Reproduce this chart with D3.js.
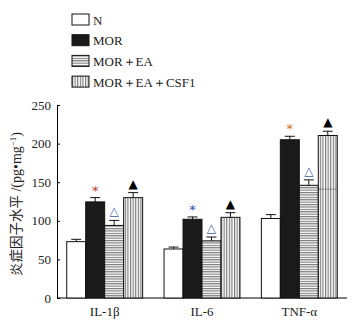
<!DOCTYPE html>
<html>
<head>
<meta charset="utf-8">
<script src="https://cdn.jsdelivr.net/npm/d3@7"></script>
<style>
  body { margin: 0; background: #fff; }
  text { font-family: "Liberation Serif", "Times New Roman", serif; }
</style>
</head>
<body>
<div id="chart"></div>
<script>
let w = 361;
let h = 322;

// data
let cytokines = ["IL-1β", "IL-6", "TNF-α"];
let groups = ["N", "MOR", "MOR＋EA", "MOR＋EA＋CSF1"];
let meanN      = [73, 63.5, 103];
let meanMOR    = [124.5, 102, 205];
let meanEA     = [94, 74, 146];
let meanCSF1   = [130, 104.5, 210.5];
let errN       = [3, 2.5, 5];
let errMOR     = [5.5, 3, 4.5];
let errEA      = [6.5, 5, 7];
let errCSF1    = [6.5, 6, 5.5];
let yTicks = [0, 50, 100, 150, 200, 250];
// significance marks: * vs N, open triangle vs MOR, filled triangle vs MOR+EA
let marks = ["*", "△", "▲"];
let starColors = ["#c0392b", "#2c4fa8", "#d4701c"];

let means = [meanN, meanMOR, meanEA, meanCSF1];
let errs = [errN, errMOR, errEA, errCSF1];

let viz = d3.select("#chart").append("svg")
  .attr("width", w)
  .attr("height", h);

let defs = viz.append("defs");
let ph = defs.append("pattern").attr("id", "hlines")
  .attr("patternUnits", "userSpaceOnUse").attr("width", 4).attr("height", 2.4);
ph.append("rect").attr("width", 4).attr("height", 2.4).attr("fill", "#fff");
ph.append("line").attr("x1", 0).attr("x2", 4).attr("y1", 0.6).attr("y2", 0.6)
  .attr("stroke", "#666").attr("stroke-width", 1);
let pv = defs.append("pattern").attr("id", "vlines")
  .attr("patternUnits", "userSpaceOnUse").attr("width", 2.6).attr("height", 4);
pv.append("rect").attr("width", 2.6).attr("height", 4).attr("fill", "#fff");
pv.append("line").attr("y1", 0).attr("y2", 4).attr("x1", 0.6).attr("x2", 0.6)
  .attr("stroke", "#666").attr("stroke-width", 1);

let fills = ["#fff", "#1a1a1a", "url(#hlines)", "url(#vlines)"];

let plotLeft = 57, plotRight = 347, plotTop = 105, plotBottom = 298;

let yScale = d3.scaleLinear().domain([0, 250]).range([plotBottom, plotTop]);
let x0 = d3.scaleBand().domain(cytokines).range([plotLeft, plotRight])
  .paddingInner(0.22).paddingOuter(0.1);
let x1 = d3.scaleBand().domain(groups).range([0, x0.bandwidth()]);

// y axis
let yAxis = d3.axisLeft(yScale).tickValues(yTicks).tickSizeInner(-3).tickSizeOuter(0).tickPadding(6);
let yg = viz.append("g").attr("transform", "translate(" + plotLeft + ",0)").call(yAxis);
yg.select(".domain").attr("stroke", "#000");
yg.selectAll("line").attr("stroke", "#000");
yg.selectAll("text").attr("font-size", 13).attr("fill", "#222")
  .style("font-family", "Liberation Serif, serif");

// x axis
viz.append("line").attr("x1", plotLeft).attr("x2", plotRight)
  .attr("y1", plotBottom).attr("y2", plotBottom).attr("stroke", "#000");
viz.selectAll(".xlab").data(cytokines).enter().append("text")
  .attr("x", d => x0(d) + x0.bandwidth() / 2)
  .attr("y", 316)
  .attr("text-anchor", "middle")
  .attr("font-size", 13)
  .attr("fill", "#222")
  .text(d => d);

// bars
let flat = [];
cytokines.forEach((c, ci) => {
  groups.forEach((g, gi) => {
    flat.push({c: c, ci: ci, g: g, gi: gi, v: means[gi][ci], e: errs[gi][ci]});
  });
});

let bars = viz.append("g");
bars.selectAll("rect").data(flat).enter().append("rect")
  .attr("x", d => x0(d.c) + x1(d.g))
  .attr("y", d => yScale(d.v))
  .attr("width", x1.bandwidth())
  .attr("height", d => plotBottom - yScale(d.v))
  .attr("fill", d => fills[d.gi])
  .attr("stroke", "#111")
  .attr("stroke-width", 1);

// error bars
let eb = viz.append("g").attr("stroke", "#111").attr("stroke-width", 1);
eb.selectAll(".stem").data(flat).enter().append("line")
  .attr("x1", d => x0(d.c) + x1(d.g) + x1.bandwidth() / 2)
  .attr("x2", d => x0(d.c) + x1(d.g) + x1.bandwidth() / 2)
  .attr("y1", d => yScale(d.v))
  .attr("y2", d => yScale(d.v + d.e));
eb.selectAll(".cap").data(flat).enter().append("line")
  .attr("x1", d => x0(d.c) + x1(d.g) + x1.bandwidth() / 2 - 5)
  .attr("x2", d => x0(d.c) + x1(d.g) + x1.bandwidth() / 2 + 5)
  .attr("y1", d => yScale(d.v + d.e))
  .attr("y2", d => yScale(d.v + d.e));

// stray dotted line inside TNF CSF1 bar
viz.append("line")
  .attr("x1", x0("TNF-α") + x1(groups[3]) + 1)
  .attr("x2", x0("TNF-α") + x1(groups[3]) + x1.bandwidth() - 1)
  .attr("y1", yScale(141)).attr("y2", yScale(141))
  .attr("stroke", "#333").attr("stroke-width", 0.8).attr("stroke-dasharray", "1,1");

// significance marks
let sig = flat.filter(d => d.gi > 0);
viz.selectAll(".sig").data(sig).enter().append("text")
  .attr("x", d => x0(d.c) + x1(d.g) + x1.bandwidth() / 2)
  .attr("y", d => yScale(d.v + d.e) - (d.gi == 1 ? 3 : 5))
  .attr("text-anchor", "middle")
  .attr("font-size", d => d.gi == 1 ? 13 : 12)
  .attr("fill", d => d.gi == 1 ? starColors[d.ci] : (d.gi == 2 ? "#3a5da8" : "#000"))
  .style("font-family", "DejaVu Sans, sans-serif")
  .text(d => marks[d.gi - 1]);

// y axis title
viz.append("text")
  .attr("transform", "translate(21,204) rotate(-90)")
  .attr("text-anchor", "middle")
  .attr("font-size", 14)
  .attr("fill", "#222")
  .html('<tspan style="font-family:Noto Sans CJK SC, sans-serif" font-size="13.5">炎症因子水平</tspan> /(pg•mg<tspan dy="-5" font-size="9">−1</tspan><tspan dy="5">)</tspan>');

// legend
let legend = viz.selectAll(".leg").data(groups).enter().append("g")
  .attr("transform", (d, i) => "translate(72," + (14 + i * 20.7) + ")");
legend.append("rect")
  .attr("width", 17).attr("height", 11)
  .attr("fill", (d, i) => fills[i])
  .attr("stroke", "#111");
legend.append("text")
  .attr("x", 21).attr("y", 10.5)
  .attr("font-size", 13)
  .attr("fill", "#222")
  .text(d => d);
</script>
</body>
</html>
